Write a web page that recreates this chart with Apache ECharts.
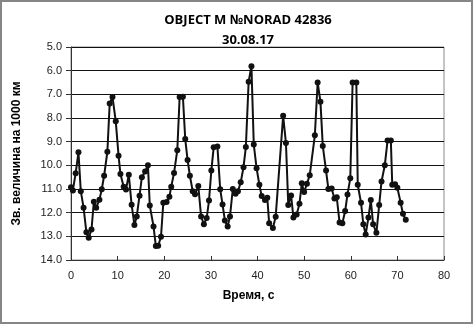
<!DOCTYPE html>
<html>
<head>
<meta charset="utf-8">
<script src="https://cdn.jsdelivr.net/npm/echarts@6/dist/echarts.min.js"></script>
<style>
  html, body { margin: 0; padding: 0; background: #fff; }
  #chart { width: 473px; height: 324px; }
</style>
</head>
<body>
<div id="chart"></div>
<script>
// время, с
var times = [
  0, 0.4, 1.0, 1.6, 2.1, 2.7, 3.3, 3.8, 4.4, 4.9, 5.4, 6.1, 6.6, 7.1, 7.8, 8.3, 8.9, 9.6, 10.2, 10.6,
  11.3, 11.8, 12.4, 13.0, 13.6, 14.1, 14.7, 15.2, 15.9, 16.5, 16.9, 17.7, 18.2, 18.7, 19.3, 19.8, 20.5, 21.1, 21.5, 22.1,
  22.8, 23.3, 24.0, 24.5, 25.0, 25.5, 26.1, 26.6, 27.3, 27.9, 28.5, 29.1, 29.6, 30.1, 30.6, 31.4, 32.0, 32.5, 33.0, 33.6,
  34.1, 34.7, 35.3, 35.8, 36.4, 37.0, 37.5, 38.1, 38.7, 39.2, 39.8, 40.4, 40.9, 41.6, 42.1, 42.5, 43.3, 43.9, 45.5, 46.1,
  46.6, 47.2, 47.7, 48.4, 49.0, 49.5, 50.0, 50.6, 51.2, 52.3, 52.9, 53.5, 54.0, 54.7, 55.2, 55.9, 56.5, 57.0, 57.6, 58.2,
  58.8, 59.3, 59.9, 60.4, 61.2, 61.5, 62.2, 62.7, 63.2, 63.8, 64.3, 64.8, 65.5, 66.1, 66.6, 67.3, 67.9, 68.6, 68.9, 69.5,
  70.0, 70.7, 71.2, 71.8
];
// зв. величина на 1000 км
var mags = [
  10.93, 11.06, 10.33, 9.45, 11.09, 11.79, 12.83, 13.06, 12.71, 11.54, 11.79, 11.45, 11.01, 10.44, 9.43, 7.39, 7.11, 8.14, 9.59, 10.37,
  10.9, 11.02, 10.4, 11.67, 12.52, 12.16, 11.28, 10.5, 10.26, 10.0, 11.7, 12.58, 13.41, 13.4, 13.02, 11.58, 11.55, 11.33, 10.9, 10.32,
  9.36, 7.11, 7.1, 8.89, 9.77, 10.44, 11.09, 11.22, 10.87, 12.16, 12.49, 12.23, 11.49, 10.22, 9.24, 9.2, 11.01, 11.65, 12.33, 12.58,
  12.16, 11.0, 11.2, 11.1, 10.72, 10.08, 9.23, 6.47, 5.81, 9.12, 10.12, 10.82, 11.3, 11.46, 11.37, 12.45, 12.65, 12.17, 7.91, 9.06,
  11.68, 11.27, 12.2, 12.08, 11.62, 10.76, 11.13, 10.78, 10.42, 8.73, 6.5, 7.31, 9.18, 10.22, 11.0, 10.98, 11.4, 11.35, 12.42, 12.45,
  11.93, 11.23, 10.55, 6.5, 6.5, 10.82, 11.58, 12.49, 12.92, 12.2, 11.47, 12.49, 12.85, 11.68, 10.68, 10.0, 8.95, 8.95, 10.82, 10.8,
  10.95, 11.58, 12.05, 12.3
];

var points = times.map(function (t, i) { return [t, mags[i]]; });

var myChart = echarts.init(document.getElementById('chart'));
myChart.setOption({
  backgroundColor: '#fff',
  animation: false,
  title: {
    text: 'OBJECT M №NORAD 42836\n30.08.17',
    left: 243,
    top: 5,
    textAlign: 'center',
    textStyle: {
      fontFamily: 'Open Sans, Liberation Sans, sans-serif',
      fontSize: 13,
      fontWeight: 'bold',
      color: '#000',
      lineHeight: 20
    }
  },
  graphic: [{
    type: 'rect',
    shape: { x: 1, y: 1, width: 471, height: 322 },
    style: { fill: 'none', stroke: '#868686', lineWidth: 2 },
    silent: true
  }],
  grid: {
    left: 71,
    right: 29,
    top: 47,
    bottom: 64,
    show: true,
    borderColor: '#8a8a8a',
    borderWidth: 1
  },
  xAxis: {
    type: 'value',
    min: 0,
    max: 80,
    interval: 10,
    name: 'Время, с',
    nameLocation: 'middle',
    nameGap: 30,
    nameTextStyle: {
      fontFamily: 'Liberation Sans, Arial, sans-serif',
      fontSize: 12,
      fontWeight: 'bold',
      color: '#000',
      padding: [0, 18, 0, 0]
    },
    axisLine: { show: true, onZero: false, lineStyle: { color: '#333', width: 1 } },
    axisTick: { show: true, inside: true, length: 4, lineStyle: { color: '#333' } },
    axisLabel: {
      margin: 10,
      fontFamily: 'Liberation Sans, Arial, sans-serif',
      fontSize: 11,
      color: '#222'
    },
    splitLine: { show: false }
  },
  yAxis: {
    type: 'value',
    inverse: true,
    min: 5,
    max: 14,
    interval: 1,
    name: 'Зв. величина на 1000 км',
    nameLocation: 'middle',
    nameGap: 48,
    nameTextStyle: {
      fontFamily: 'Liberation Sans, Arial, sans-serif',
      fontSize: 12,
      fontWeight: 'bold',
      color: '#000'
    },
    axisLine: { show: true, lineStyle: { color: '#333', width: 1 } },
    axisTick: { show: true, inside: false, length: 5, lineStyle: { color: '#333' } },
    axisLabel: {
      margin: 9,
      fontFamily: 'Liberation Sans, Arial, sans-serif',
      fontSize: 11,
      color: '#222',
      formatter: function (v) { return v.toFixed(1); }
    },
    splitLine: { show: true, lineStyle: { color: '#111', width: 1 } }
  },
  series: [{
    type: 'line',
    data: points,
    symbol: 'circle',
    symbolSize: 6,
    itemStyle: { color: '#111' },
    lineStyle: { color: '#111', width: 2 }
  }]
});
</script>
</body>
</html>
